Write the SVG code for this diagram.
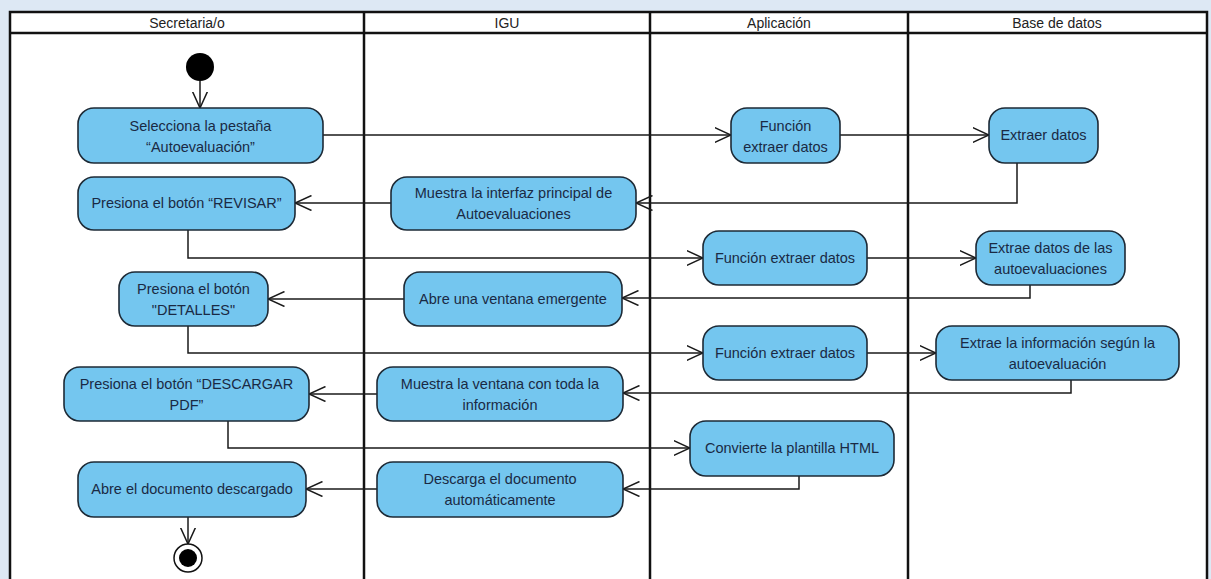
<svg xmlns="http://www.w3.org/2000/svg" width="1211" height="579" viewBox="0 0 1211 579">
<style>
.lane{fill:none;stroke:#111;stroke-width:2.5}
.hdr{font-family:"Liberation Sans",Arial,sans-serif;font-size:14px;fill:#222;text-anchor:middle}
.node rect{fill:#74c6ef;stroke:#1d2a36;stroke-width:1.6}
.node text{font-family:"Liberation Sans",Arial,sans-serif;font-size:14.5px;fill:#1a2a44;text-anchor:middle}
.conn path{fill:none;stroke:#1a1a1a;stroke-width:1.5}
</style>
<defs>
<marker id="arr" viewBox="0 0 17 16" refX="16.5" refY="8" markerWidth="17" markerHeight="16" markerUnits="userSpaceOnUse" orient="auto">
<path d="M0,0.5 L16.5,8 L0,15.5" fill="none" stroke="#1a1a1a" stroke-width="1.5"/>
</marker>
</defs>
<rect x="0" y="0" width="1211" height="579" fill="#dde8f4"/>
<g id="swimlanes">
<rect x="10" y="12" width="1197" height="580" style="fill:#ffffff" class="lane"/>
<line x1="10" y1="33" x2="1207" y2="33" class="lane"/>
<line x1="364" y1="12" x2="364" y2="579" class="lane"/>
<line x1="650" y1="12" x2="650" y2="579" class="lane"/>
<line x1="908" y1="12" x2="908" y2="579" class="lane"/>
<text class="hdr" x="187" y="28">Secretaria/o</text>
<text class="hdr" x="507" y="28">IGU</text>
<text class="hdr" x="779" y="28">Aplicación</text>
<text class="hdr" x="1057" y="28">Base de datos</text>
</g>
<g class="conn" id="connectors">
<path d="M200,81 L200,108" marker-end="url(#arr)"/>
<path d="M323,135 L731,135" marker-end="url(#arr)"/>
<path d="M840,135 L989,135" marker-end="url(#arr)"/>
<path d="M1017,163 L1017,203 L636,203" marker-end="url(#arr)"/>
<path d="M391,203 L295,203" marker-end="url(#arr)"/>
<path d="M188,230 L188,258 L703,258" marker-end="url(#arr)"/>
<path d="M867,258 L976,258" marker-end="url(#arr)"/>
<path d="M1030,285 L1030,298 L622,298" marker-end="url(#arr)"/>
<path d="M404,299 L268,299" marker-end="url(#arr)"/>
<path d="M188,326 L188,353 L703,353" marker-end="url(#arr)"/>
<path d="M867,353 L936,353" marker-end="url(#arr)"/>
<path d="M1071,380 L1071,393 L623,393" marker-end="url(#arr)"/>
<path d="M377,394 L309,394" marker-end="url(#arr)"/>
<path d="M228,421 L228,448 L690,448" marker-end="url(#arr)"/>
<path d="M799,476 L799,489 L623,489" marker-end="url(#arr)"/>
<path d="M377,489 L306,489" marker-end="url(#arr)"/>
<path d="M188,517 L188,544" marker-end="url(#arr)"/>
</g>
<g id="start"><circle cx="200" cy="67" r="14" fill="#000"/></g>
<g id="end"><circle cx="188" cy="558" r="14" fill="#fff" stroke="#111" stroke-width="1.5"/><circle cx="188" cy="558" r="9" fill="#000"/></g>
<g class="node" id="n1"><rect x="78" y="108" width="245" height="55" rx="16"/><text x="200.5" y="131">Selecciona la pestaña</text><text x="200.5" y="152">“Autoevaluación”</text></g>
<g class="node" id="n2"><rect x="731" y="108" width="109" height="55" rx="16"/><text x="785.5" y="131">Función</text><text x="785.5" y="152">extraer datos</text></g>
<g class="node" id="n3"><rect x="989" y="108" width="109" height="55" rx="16"/><text x="1043.5" y="140">Extraer datos</text></g>
<g class="node" id="n4"><rect x="391" y="177" width="245" height="53" rx="16"/><text x="513.5" y="198">Muestra la interfaz principal de</text><text x="513.5" y="219">Autoevaluaciones</text></g>
<g class="node" id="n5"><rect x="78" y="177" width="217" height="53" rx="16"/><text x="186.5" y="208">Presiona el botón “REVISAR”</text></g>
<g class="node" id="n6"><rect x="703" y="231" width="164" height="54" rx="16"/><text x="785" y="263">Función extraer datos</text></g>
<g class="node" id="n7"><rect x="976" y="231" width="149" height="54" rx="16"/><text x="1050.5" y="253">Extrae datos de las</text><text x="1050.5" y="274">autoevaluaciones</text></g>
<g class="node" id="n8"><rect x="404" y="272" width="218" height="54" rx="16"/><text x="513" y="304">Abre una ventana emergente</text></g>
<g class="node" id="n9"><rect x="119" y="272" width="149" height="54" rx="16"/><text x="193.5" y="294">Presiona el botón</text><text x="193.5" y="315">"DETALLES"</text></g>
<g class="node" id="n10"><rect x="703" y="326" width="164" height="54" rx="16"/><text x="785" y="358">Función extraer datos</text></g>
<g class="node" id="n11"><rect x="936" y="326" width="243" height="54" rx="16"/><text x="1057.5" y="348">Extrae la información según la</text><text x="1057.5" y="369">autoevaluación</text></g>
<g class="node" id="n12"><rect x="377" y="367" width="246" height="54" rx="16"/><text x="500" y="389">Muestra la ventana con toda la</text><text x="500" y="410">información</text></g>
<g class="node" id="n13"><rect x="64" y="367" width="245" height="54" rx="16"/><text x="186.5" y="389">Presiona el botón “DESCARGAR</text><text x="186.5" y="410">PDF”</text></g>
<g class="node" id="n14"><rect x="690" y="421" width="204" height="55" rx="16"/><text x="792" y="453">Convierte la plantilla HTML</text></g>
<g class="node" id="n15"><rect x="377" y="462" width="246" height="55" rx="16"/><text x="500" y="484">Descarga el documento</text><text x="500" y="505">automáticamente</text></g>
<g class="node" id="n16"><rect x="78" y="462" width="228" height="55" rx="16"/><text x="192" y="494">Abre el documento descargado</text></g>
</svg>
